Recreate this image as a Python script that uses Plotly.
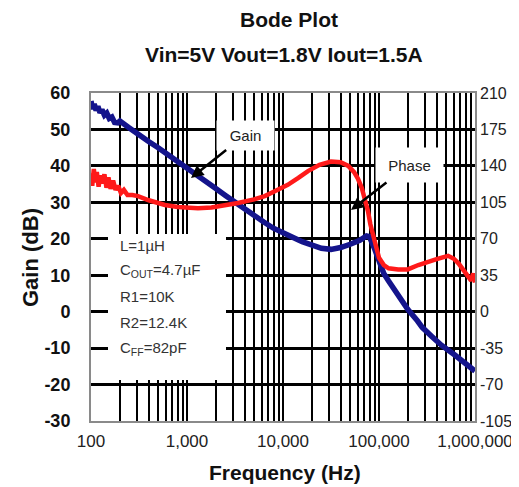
import plotly.graph_objects as go

# Gain curve (Hz, dB)
gain_freq = [100, 104, 108, 113, 118, 124, 130, 138, 146, 155, 165, 176, 190,
             200, 251, 316, 398, 501, 631, 794, 1000, 1259, 1585, 1995, 2512,
             3162, 3981, 5012, 6310, 7943, 10000, 12590, 15850, 19950, 25120,
             31620, 39810, 50120, 63100, 74130, 79430, 89130, 100000, 112200,
             125900, 147000, 177800, 200000, 251200, 281800, 354800, 446700,
             616600, 794300, 912000, 1000000]
gain_db = [57.8, 55.6, 57.0, 55.2, 56.3, 54.6, 55.4, 53.9, 54.5, 53.0, 53.4, 51.9, 51.8,
           52.3, 50.4, 48.4, 46.7, 45.0, 43.2, 41.3, 39.5, 37.6, 35.7, 33.8, 31.9,
           30.0, 28.1, 26.3, 24.6, 22.9, 21.5, 20.4, 19.2, 18.2, 17.4,
           17.1, 17.6, 18.5, 19.6, 20.8, 20.6, 17.5, 13.8, 10.5,
           8.4, 5.7, 3.0, 0.6, -2.5, -4.3, -6.8, -9.2,
           -11.9, -14.0, -15.5, -16.3]

# Phase curve (Hz, degrees)
phase_freq = [100, 103, 107, 111, 115, 120, 125, 131, 138, 145, 152, 160, 170,
              180, 192, 205, 220, 240, 270, 309, 400, 589, 800, 1000, 1300,
              1800, 2500, 3400, 5000, 6460, 8300, 11220, 14450, 18200, 24000,
              31620, 39800, 47860, 55000, 60260, 66070, 70800, 76740, 81280,
              87100, 93330, 100000, 112200, 125900, 158500, 199500, 257000,
              323600, 398100, 524800, 602600, 676100, 758600, 851100, 912000,
              955000, 1000000]
phase_deg = [133, 121, 137, 124, 134, 120, 131, 123, 132, 119, 129, 118, 126,
             117, 121, 114, 117, 112, 112, 111, 107, 102.5, 100.5, 99.5, 99.4,
             100, 102, 104.3, 107.8, 111, 115.9, 121.8, 128.5, 135, 141,
             144.2, 143.5, 140, 134, 127.8, 119, 110, 96.6, 84,
             71.8, 61, 51.8, 44.8, 41.7, 40.6, 40.6, 44.8,
             48.3, 50.4, 53.6, 50.8, 46.2, 40.3, 33.3, 29.8,
             36.8, 28]

x_tickvals = [100, 1000, 10000, 100000, 1000000]
x_ticktext = ["100", "1,000", "10,000", "100,000", "1,000,000"]
x_minor = [m * 10 ** d for d in range(2, 6) for m in range(2, 10)]

gain_tickvals = [60, 50, 40, 30, 20, 10, 0, -10, -20, -30]
gain_ticktext = ["60", "50", "40", "30", "20", "10", "0", "-10", "-20", "-30"]
phase_tickvals = [210, 175, 140, 105, 70, 35, 0, -35, -70, -105]
phase_ticktext = ["210", "175", "140", "105", "70", "35", "0", "-35", "-70", "-105"]

components = ["L=1µH", "C<sub>OUT</sub>=4.7µF", "R1=10K", "R2=12.4K", "C<sub>FF</sub>=82pF"]

W, H = 519, 487
L_, R_, T_, B_ = 83, 52, 85, 74
FONT = "Liberation Sans, Arial, sans-serif"


def px(x):
    return (x - L_) / (W - L_ - R_)


def py(y):
    return (H - B_ - y) / (H - T_ - B_)


fig = go.Figure()

fig.add_trace(go.Scatter(
    x=phase_freq, y=phase_deg, yaxis="y2", mode="lines", name="Phase",
    line=dict(color="#ff1a1a", width=4.5), showlegend=False
))
fig.add_trace(go.Scatter(
    x=gain_freq, y=gain_db, mode="lines", name="Gain",
    line=dict(color="#14148c", width=5.5), showlegend=False
))

# white panel with the component values (covers the grid, no trace underneath)
fig.add_shape(type="rect", xref="paper", yref="paper",
              x0=px(100), x1=px(218), y0=py(372), y1=py(226),
              fillcolor="white", line=dict(width=0), layer="above")

ann = []
ann.append(dict(text="<b>Bode Plot</b>", x=px(281), y=py(12), font=dict(size=21)))
ann.append(dict(text="<b>Vin=5V Vout=1.8V Iout=1.5A</b>", x=px(276), y=py(46), font=dict(size=21)))
ann.append(dict(text="<b>Frequency (Hz)</b>", x=px(277), y=py(464), font=dict(size=21)))
ann.append(dict(text="<b>Gain (dB)</b>", x=px(22), y=py(250), textangle=-90, font=dict(size=22)))
for i, t in enumerate(components):
    ann.append(dict(text=t, x=px(110), y=py(237 + 25.8 * i), xanchor="left",
                    font=dict(size=15, color="#333")))

for a in ann:
    a.setdefault("xanchor", "center")
    a.update(xref="paper", yref="paper", yanchor="middle", showarrow=False)
    a["font"].setdefault("color", "#111")
    a["font"]["family"] = FONT

# labelled arrows: label box sits at the arrow tail
for label, hx, hy, cx, cy, bw, bh in [("Gain", 183, 170, 237, 127, 55, 27),
                                      ("Phase", 343, 202, 401, 157, 65, 32)]:
    ann.append(dict(text=label, x=px(hx), y=py(hy), xref="paper", yref="paper",
                    ax=cx - hx, ay=cy - hy, width=bw, height=bh, bgcolor="white",
                    font=dict(family=FONT, size=15, color="#222"),
                    showarrow=True, arrowhead=2, arrowsize=1, arrowwidth=2.5,
                    arrowcolor="black"))

fig.update_layout(
    width=W, height=H,
    margin=dict(l=L_, r=R_, t=T_, b=B_),
    paper_bgcolor="white", plot_bgcolor="white",
    font=dict(family=FONT, color="#111"),
    annotations=ann,
    xaxis=dict(
        type="log", range=[2, 6],
        tickmode="array", tickvals=x_tickvals, ticktext=x_ticktext,
        tickfont=dict(size=17, color="#222"), ticks="", ticklabelstandoff=4,
        showgrid=True, gridcolor="black", gridwidth=1.5,
        minor=dict(tickmode="array", tickvals=x_minor, showgrid=True,
                   gridcolor="black", gridwidth=1.5, ticks=""),
        showline=True, linecolor="#8a8a8a", linewidth=2, mirror=True,
        zeroline=False,
    ),
    yaxis=dict(
        range=[-30, 60], tickmode="array",
        tickvals=gain_tickvals, ticktext=gain_ticktext,
        tickfont=dict(size=18, color="#111", weight="bold"), ticks="",
        ticklabelstandoff=15,
        showgrid=True, gridcolor="black", gridwidth=2.5,
        showline=True, linecolor="#8a8a8a", linewidth=2, mirror=True,
        zeroline=False,
    ),
    yaxis2=dict(
        range=[-105, 210], tickmode="array",
        tickvals=phase_tickvals, ticktext=phase_ticktext,
        overlaying="y", side="right",
        tickfont=dict(size=16, color="#222"), ticks="", ticklabelstandoff=4,
        showgrid=False, zeroline=False, showline=False,
    ),
)

fig.write_html("out.html")
